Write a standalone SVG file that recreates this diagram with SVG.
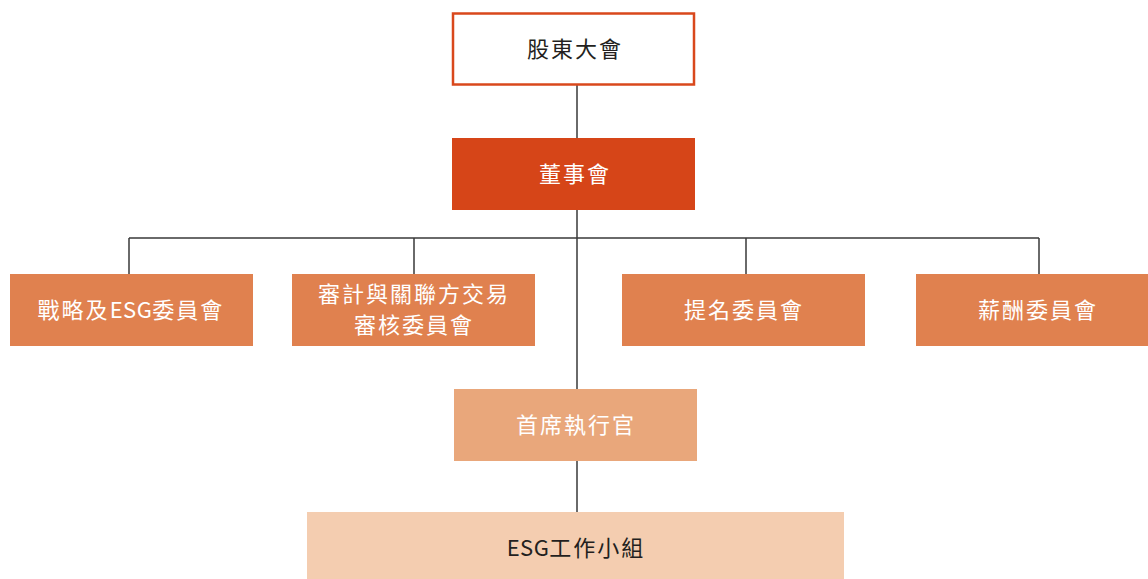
<svg xmlns="http://www.w3.org/2000/svg" width="1148" height="579" viewBox="0 0 1148 579">
<style>
.t{font-family:"Noto Sans CJK TC","Noto Sans CJK SC",sans-serif;font-size:22px;font-weight:400;letter-spacing:2px;text-anchor:middle;dominant-baseline:central}
.l{letter-spacing:0.5px}
.w{fill:#ffffff}
.d{fill:#231f20}
.c{fill:#e0814f}
.ln{stroke:#3a3a3a;stroke-width:1.5;fill:none}
</style>
<rect width="1148" height="579" fill="#ffffff"/>
<g id="connectors">
<path class="ln" d="M577 85V389M577 461V512M129 238H1039M129 238V274M414 238V274M746 238V274M1039 238V274"/>
</g>
<g id="agm">
<rect x="453" y="13.5" width="241" height="71" fill="#ffffff" stroke="#d9481c" stroke-width="2.5"/>
<text class="t d" x="575" y="46.5">股東大會</text>
</g>
<g id="board">
<rect x="452" y="138" width="243" height="72" fill="#d64518"/>
<text class="t w" x="575" y="171.5">董事會</text>
</g>
<g id="strategy">
<rect class="c" x="10" y="274" width="243" height="72"/>
<text class="t w" x="131" y="307.5">戰略及<tspan class="l">ESG</tspan>委員會</text>
</g>
<g id="audit">
<rect class="c" x="292" y="274" width="243" height="72"/>
<text class="t w" x="414" y="291.5">審計與關聯方交易</text>
<text class="t w" x="414" y="322.5">審核委員會</text>
</g>
<g id="nomination">
<rect class="c" x="622" y="274" width="243" height="72"/>
<text class="t w" x="744" y="307.5">提名委員會</text>
</g>
<g id="remuneration">
<rect class="c" x="916" y="274" width="232" height="72"/>
<text class="t w" x="1038" y="307.5">薪酬委員會</text>
</g>
<g id="ceo">
<rect x="454" y="389" width="243" height="72" fill="#e9a77b"/>
<text class="t w" x="576" y="422.5">首席執行官</text>
</g>
<g id="esg">
<rect x="307" y="512" width="537" height="67" fill="#f4cdb0"/>
<text class="t d" x="576" y="545.5"><tspan class="l">ESG</tspan>工作小組</text>
</g>
</svg>
